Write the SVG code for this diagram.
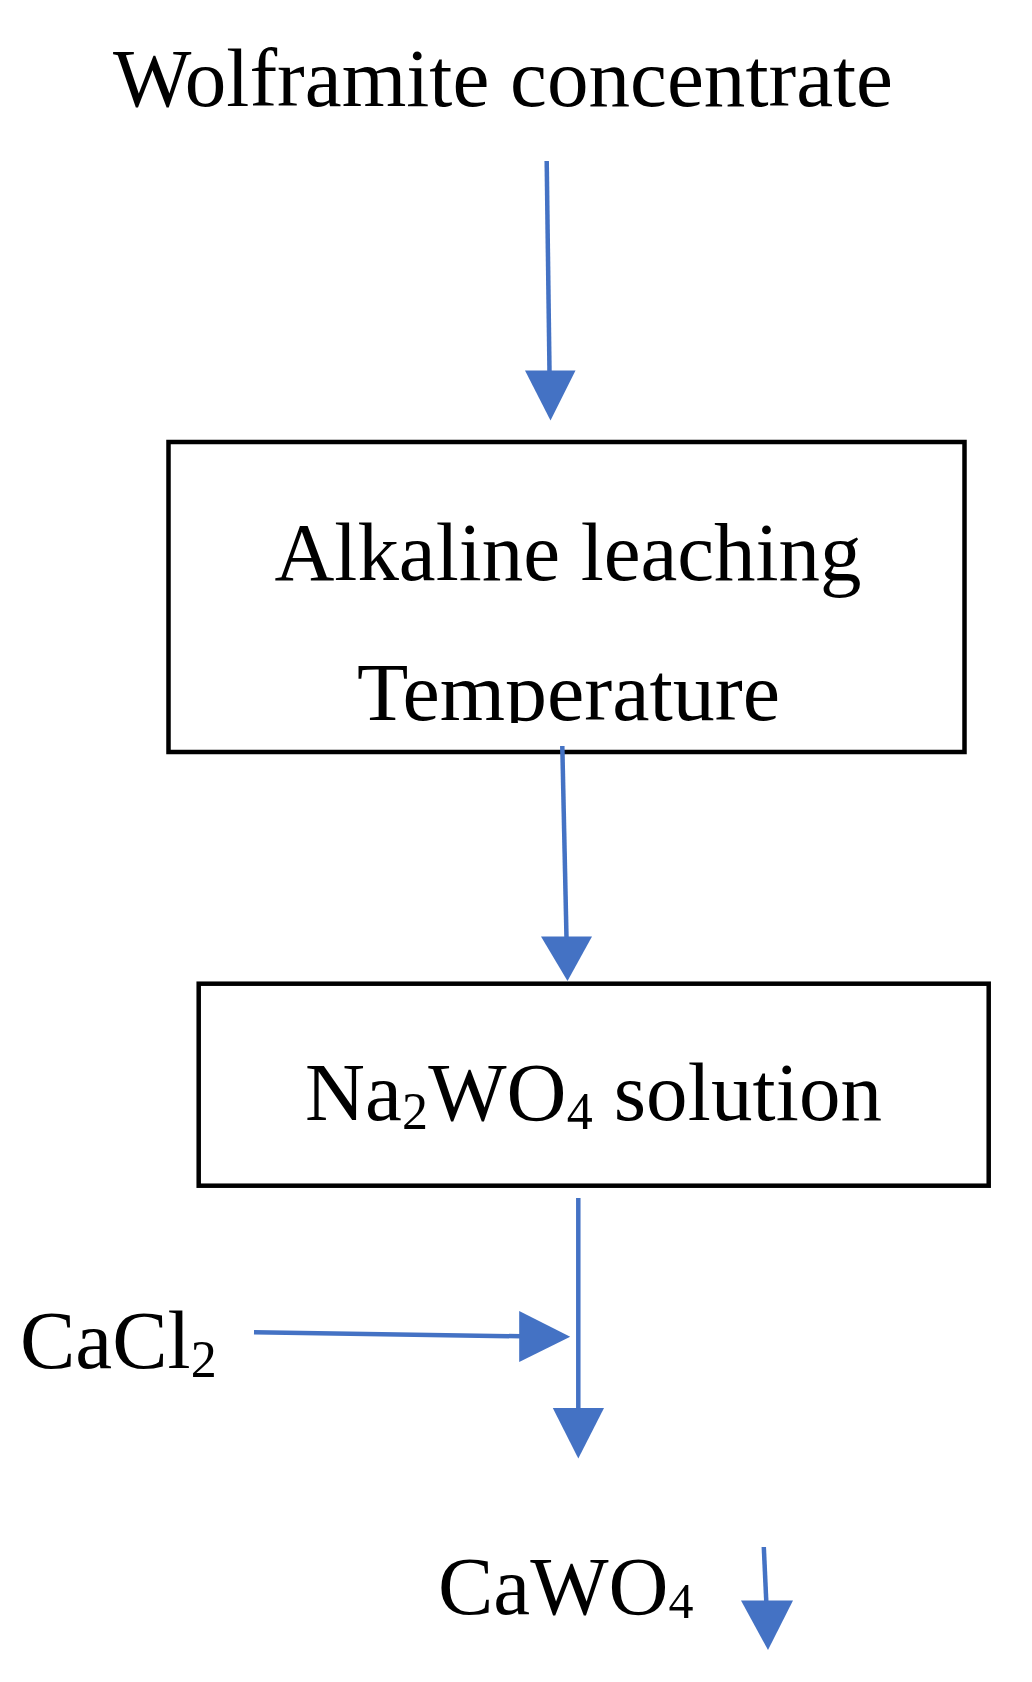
<svg xmlns="http://www.w3.org/2000/svg" width="1032" height="1682" viewBox="0 0 1032 1682">
<style>
.t{font-family:"Liberation Serif","Times New Roman",serif;font-size:83px;fill:#000}
.box{fill:#fff;stroke:#000;stroke-width:4.5}
.ln{stroke:#4472C4;stroke-width:4.5;fill:none}
.hd{fill:#4472C4;stroke:none}
</style>
<defs>
<clipPath id="clipT"><rect x="150" y="440" width="830" height="283"/></clipPath>
</defs>
<rect width="1032" height="1682" fill="#fff"/>
<g id="wolframite">
<text class="t" x="503" y="106" text-anchor="middle" textLength="780" lengthAdjust="spacingAndGlyphs">Wolframite concentrate</text>
</g>
<g id="alkaline-leaching">
<rect class="box" x="168.5" y="442" width="796" height="310"/>
<text class="t" x="568" y="580" text-anchor="middle" textLength="587" lengthAdjust="spacingAndGlyphs">Alkaline leaching</text>
<text class="t" x="568.5" y="720" text-anchor="middle" textLength="423" lengthAdjust="spacingAndGlyphs" clip-path="url(#clipT)">Temperature</text>
</g>
<g id="na2wo4">
<rect class="box" x="198.7" y="983.7" width="790" height="202"/>
<text class="t" x="305" y="1120" textLength="577" lengthAdjust="spacing">Na<tspan font-size="52" dy="9">2</tspan><tspan dy="-9">WO</tspan><tspan font-size="52" dy="9">4</tspan><tspan dy="-9"> solution</tspan></text>
</g>
<g id="cacl2">
<text class="t" x="20" y="1368">CaCl<tspan font-size="52" dy="9">2</tspan></text>
</g>
<g id="cawo4">
<text class="t" x="438" y="1614">CaWO<tspan font-size="50" dy="4">4</tspan></text>
</g>
<g id="connectors">
<line class="ln" x1="546.7" y1="161" x2="549.5" y2="372"/>
<polygon class="hd" points="525,370.5 575.5,370.5 550.5,420.5"/>
<line class="ln" x1="562.3" y1="746" x2="566.5" y2="938"/>
<polygon class="hd" points="541,936.5 592,936.5 567.5,981"/>
<line class="ln" x1="578.3" y1="1198" x2="578.3" y2="1410"/>
<polygon class="hd" points="552.8,1408 604,1408 578.3,1458.5"/>
<line class="ln" x1="254" y1="1332.3" x2="521" y2="1336.3"/>
<polygon class="hd" points="519.2,1311 519.2,1362 570.2,1336.7"/>
<line class="ln" x1="763.8" y1="1547" x2="766.3" y2="1602"/>
<polygon class="hd" points="741,1600.6 793,1600.6 768,1650"/>
</g>
</svg>
